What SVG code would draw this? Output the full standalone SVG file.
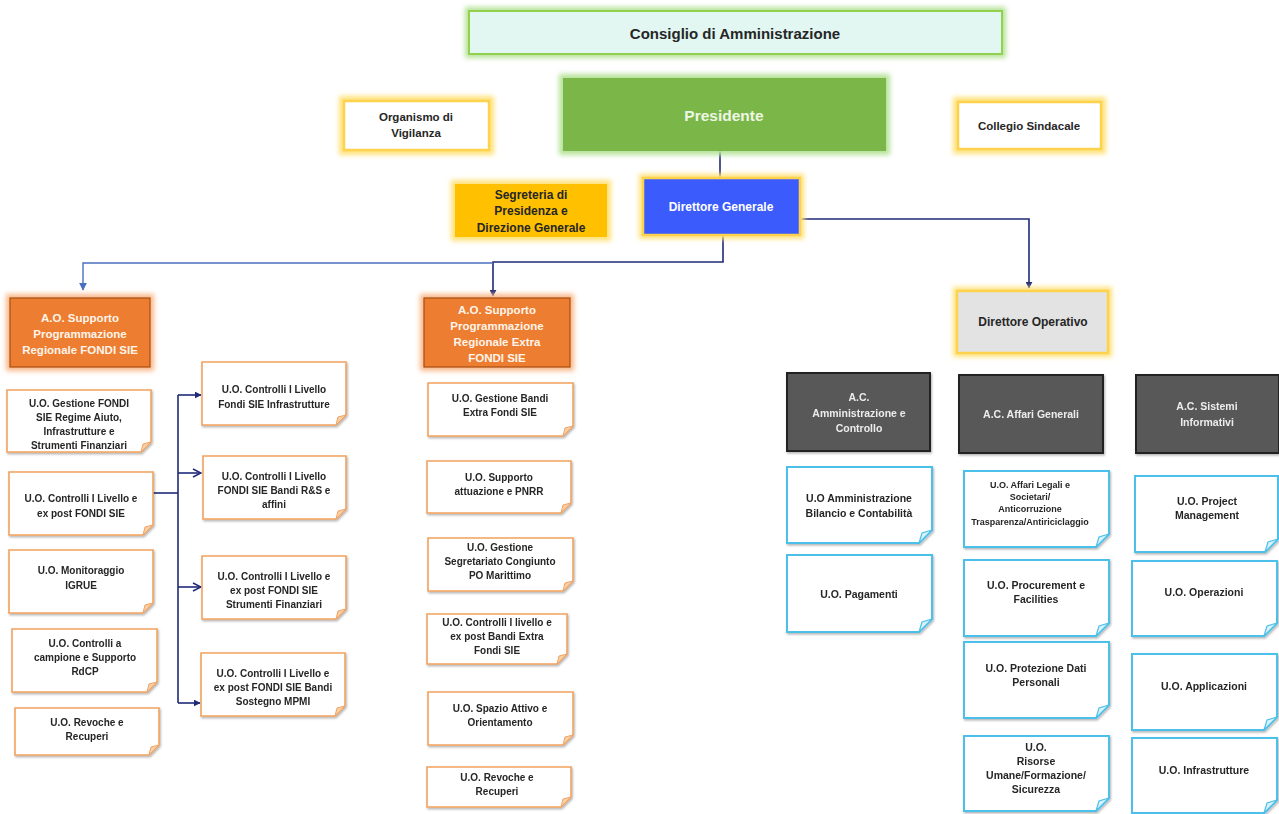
<svg xmlns="http://www.w3.org/2000/svg" width="1279" height="814" viewBox="0 0 1279 814">
<defs>
<style>
.t{font-family:"Liberation Sans",Arial,sans-serif;font-weight:bold;text-anchor:middle;dominant-baseline:central;fill:#262626}
.w{fill:#fff5ea}
.s9{font-size:9px}.s10{font-size:10px}.s105{font-size:10.5px}.s115{font-size:11.5px}.s12{font-size:12px}.s15{font-size:15px}
.uo{fill:#fff;stroke:#f2a25f;stroke-width:1.6}
.fo{fill:#f9cfa8;stroke:#f2a25f;stroke-width:1}
.ub{fill:#fff;stroke:#4cc0ea;stroke-width:2}
.fb{fill:#d8f1fb;stroke:#4cc0ea;stroke-width:1.2}
.ao{fill:#ed7d31;stroke:#a84c10;stroke-width:1.2}
.ac{fill:#595959;stroke:#222;stroke-width:2}
.gy{fill:#ffe27a;filter:url(#blur)}
.gg{fill:#b7e39a;filter:url(#blur)}
.go{fill:#f8b98a;filter:url(#blur)}
.con{fill:none;stroke:#1f2a78;stroke-width:1.6}
</style>
<filter id="blur" x="-20%" y="-20%" width="140%" height="140%"><feGaussianBlur stdDeviation="2.5"/></filter>
<filter id="sh" x="-10%" y="-10%" width="130%" height="130%"><feDropShadow dx="1" dy="1.5" stdDeviation="1.2" flood-color="#000" flood-opacity="0.3"/></filter>
<marker id="ah" viewBox="0 0 10 10" refX="9" refY="5" markerWidth="7" markerHeight="7" markerUnits="userSpaceOnUse" orient="auto"><path d="M0,0 L10,5 L0,10 Z" fill="#1f2a78"/></marker>
<marker id="ahl" viewBox="0 0 10 10" refX="9" refY="5" markerWidth="8" markerHeight="8" markerUnits="userSpaceOnUse" orient="auto"><path d="M0,0 L10,5 L0,10 Z" fill="#4a6fc0"/></marker>
<marker id="ao" viewBox="0 0 10 10" refX="9" refY="5" markerWidth="10" markerHeight="10" markerUnits="userSpaceOnUse" orient="auto"><path d="M1,1 L9,5 L1,9" fill="none" stroke="#1f2a78" stroke-width="1.5"/></marker>
</defs>
<rect width="1279" height="814" fill="#fff"/>

<g id="connectors">
<path class="con" d="M720,151 V178"/>
<path class="con" d="M800,219 H1029 V288" marker-end="url(#ah)"/>
<path class="con" d="M723,235 V262 H493 V296" marker-end="url(#ah)"/>
<path d="M493,263 H83 V290" fill="none" stroke="#4a6fc0" stroke-width="1.4" marker-end="url(#ahl)"/>
<path class="con" d="M153,493 H178"/>
<path class="con" d="M178,395 V703"/>
<path class="con" d="M178,395 H201" marker-end="url(#ah)"/>
<path class="con" d="M178,473 H201" marker-end="url(#ao)"/>
<path class="con" d="M178,587 H201" marker-end="url(#ao)"/>
<path class="con" d="M178,703 H200" marker-end="url(#ah)"/>
</g>

<g id="consiglio">
<rect class="gg" x="465" y="7" width="541" height="51"/>
<rect x="469" y="11" width="533" height="43" fill="#e2f6f2" stroke="#92d050" stroke-width="2"/>
<text class="t s15" x="735" y="33">Consiglio di Amministrazione</text>
</g>

<g id="presidente">
<rect class="gg" x="559" y="74" width="331" height="81"/>
<rect x="563" y="78" width="323" height="73" fill="#7ab648"/>
<text class="t s15" x="724" y="115" style="fill:#eef7e4;font-size:15.5px">Presidente</text>
</g>

<g id="organismo">
<rect class="gy" x="339" y="96" width="155" height="59"/>
<rect x="344" y="101" width="145" height="49" fill="#fff" stroke="#ffd24d" stroke-width="2.5"/>
<text class="t s115" x="416" y="117">Organismo di</text>
<text class="t s115" x="416" y="133">Vigilanza</text>
</g>

<g id="collegio">
<rect class="gy" x="953" y="97" width="153" height="57"/>
<rect x="958" y="102" width="143" height="47" fill="#fff" stroke="#ffd24d" stroke-width="2.5"/>
<text class="t s115" x="1029" y="126">Collegio Sindacale</text>
</g>

<g id="segreteria">
<rect class="gy" x="451" y="180" width="160" height="61"/>
<rect x="455" y="184" width="152" height="53" fill="#ffc000"/>
<text class="t s12" x="531" y="195">Segreteria di</text>
<text class="t s12" x="531" y="211">Presidenza e</text>
<text class="t s12" x="531" y="228">Direzione Generale</text>
</g>

<g id="direttore-generale">
<rect class="gy" x="639" y="174" width="165" height="65"/>
<rect x="643" y="178" width="157" height="57" fill="#3b5bfd" stroke="#ffd24d" stroke-width="2.5"/>
<text class="t s12" x="721" y="207" style="fill:#fff">Direttore Generale</text>
</g>

<g id="direttore-operativo">
<rect class="gy" x="953" y="287" width="159" height="70"/>
<rect x="957" y="291" width="151" height="62" fill="#e3e3e3" stroke="#ffd24d" stroke-width="2.5"/>
<text class="t s12" x="1033" y="322">Direttore Operativo</text>
</g>

<g id="ao-fondi-sie">
<rect class="go" x="6" y="294" width="148" height="77"/>
<rect class="ao" x="10" y="298" width="140" height="69"/>
<text class="t s115 w" x="80" y="318">A.O. Supporto</text>
<text class="t s115 w" x="80" y="334">Programmazione</text>
<text class="t s115 w" x="80" y="350">Regionale FONDI SIE</text>
</g>

<g id="ao-extra">
<rect class="go" x="420" y="294" width="154" height="77"/>
<rect class="ao" x="424" y="298" width="146" height="69"/>
<text class="t s115 w" x="497" y="310">A.O. Supporto</text>
<text class="t s115 w" x="497" y="326">Programmazione</text>
<text class="t s115 w" x="497" y="342">Regionale Extra</text>
<text class="t s115 w" x="497" y="358">FONDI SIE</text>
</g>

<g id="uo-gestione-fondi" filter="url(#sh)">
<path class="uo" d="M7,390 H151 V442 L141,452 H7 Z"/><path class="fo" d="M141,452 L143,444 L151,442 Z"/>
<text class="t s10" x="79" y="403">U.O. Gestione FONDI</text>
<text class="t s10" x="79" y="417">SIE Regime Aiuto,</text>
<text class="t s10" x="79" y="431">Infrastrutture e</text>
<text class="t s10" x="79" y="445">Strumenti Finanziari</text>
</g>
<g id="uo-controlli-fondi" filter="url(#sh)">
<path class="uo" d="M9,472 H153 V525 L143,535 H9 Z"/><path class="fo" d="M143,535 L145,527 L153,525 Z"/>
<text class="t s10" x="81" y="498">U.O. Controlli I Livello e</text>
<text class="t s10" x="81" y="513">ex post FONDI SIE</text>
</g>
<g id="uo-monitoraggio" filter="url(#sh)">
<path class="uo" d="M9,550 H153 V603 L143,613 H9 Z"/><path class="fo" d="M143,613 L145,605 L153,603 Z"/>
<text class="t s10" x="81" y="570">U.O. Monitoraggio</text>
<text class="t s10" x="81" y="585">IGRUE</text>
</g>
<g id="uo-campione" filter="url(#sh)">
<path class="uo" d="M12,629 H157 V682 L147,692 H12 Z"/><path class="fo" d="M147,692 L149,684 L157,682 Z"/>
<text class="t s10" x="85" y="643">U.O. Controlli a</text>
<text class="t s10" x="85" y="657">campione e Supporto</text>
<text class="t s10" x="85" y="671">RdCP</text>
</g>
<g id="uo-revoche-1" filter="url(#sh)">
<path class="uo" d="M15,708 H159 V745 L149,755 H15 Z"/><path class="fo" d="M149,755 L151,747 L159,745 Z"/>
<text class="t s10" x="87" y="722">U.O. Revoche e</text>
<text class="t s10" x="87" y="736">Recuperi</text>
</g>

<g id="uo-ctrl-infra" filter="url(#sh)">
<path class="uo" d="M202,362 H346 V415 L336,425 H202 Z"/><path class="fo" d="M336,425 L338,417 L346,415 Z"/>
<text class="t s10" x="274" y="389">U.O.  Controlli I Livello</text>
<text class="t s10" x="274" y="404">Fondi SIE Infrastrutture</text>
</g>
<g id="uo-ctrl-rs" filter="url(#sh)">
<path class="uo" d="M203,456 H346 V509 L336,519 H203 Z"/><path class="fo" d="M336,519 L338,511 L346,509 Z"/>
<text class="t s10" x="274" y="476">U.O. Controlli I Livello</text>
<text class="t s10" x="274" y="490">FONDI SIE Bandi R&amp;S e</text>
<text class="t s10" x="274" y="504">affini</text>
</g>
<g id="uo-ctrl-strumenti" filter="url(#sh)">
<path class="uo" d="M202,556 H346 V609 L336,619 H202 Z"/><path class="fo" d="M336,619 L338,611 L346,609 Z"/>
<text class="t s10" x="274" y="576">U.O. Controlli I Livello e</text>
<text class="t s10" x="274" y="590">ex post FONDI SIE</text>
<text class="t s10" x="274" y="604">Strumenti Finanziari</text>
</g>
<g id="uo-ctrl-mpmi" filter="url(#sh)">
<path class="uo" d="M201,653 H345 V706 L335,716 H201 Z"/><path class="fo" d="M335,716 L337,708 L345,706 Z"/>
<text class="t s10" x="273" y="673">U.O. Controlli I Livello e</text>
<text class="t s10" x="273" y="687">ex post FONDI SIE Bandi</text>
<text class="t s10" x="273" y="701">Sostegno MPMI</text>
</g>

<g id="uo-gestione-bandi" filter="url(#sh)">
<path class="uo" d="M428,383 H573 V426 L563,436 H428 Z"/><path class="fo" d="M563,436 L565,428 L573,426 Z"/>
<text class="t s10" x="500" y="398">U.O. Gestione Bandi</text>
<text class="t s10" x="500" y="412">Extra Fondi SIE</text>
</g>
<g id="uo-pnrr" filter="url(#sh)">
<path class="uo" d="M427,461 H571 V503 L561,513 H427 Z"/><path class="fo" d="M561,513 L563,505 L571,503 Z"/>
<text class="t s10" x="499" y="477">U.O.  Supporto</text>
<text class="t s10" x="499" y="491">attuazione e PNRR</text>
</g>
<g id="uo-segretariato" filter="url(#sh)">
<path class="uo" d="M428,538 H573 V581 L563,591 H428 Z"/><path class="fo" d="M563,591 L565,583 L573,581 Z"/>
<text class="t s10" x="500" y="547">U.O. Gestione</text>
<text class="t s10" x="500" y="561">Segretariato Congiunto</text>
<text class="t s10" x="500" y="575">PO Marittimo</text>
</g>
<g id="uo-ctrl-extra" filter="url(#sh)">
<path class="uo" d="M427,614 H567 V654 L557,664 H427 Z"/><path class="fo" d="M557,664 L559,656 L567,654 Z"/>
<text class="t s10" x="497" y="622">U.O. Controlli I livello e</text>
<text class="t s10" x="497" y="636">ex post Bandi Extra</text>
<text class="t s10" x="497" y="650">Fondi SIE</text>
</g>
<g id="uo-spazio" filter="url(#sh)">
<path class="uo" d="M428,692 H573 V735 L563,745 H428 Z"/><path class="fo" d="M563,745 L565,737 L573,735 Z"/>
<text class="t s10" x="500" y="708">U.O. Spazio Attivo e</text>
<text class="t s10" x="500" y="722">Orientamento</text>
</g>
<g id="uo-revoche-2" filter="url(#sh)">
<path class="uo" d="M427,767 H571 V797 L561,807 H427 Z"/><path class="fo" d="M561,807 L563,799 L571,797 Z"/>
<text class="t s10" x="497" y="777">U.O. Revoche e</text>
<text class="t s10" x="497" y="791">Recuperi</text>
</g>

<g id="ac-amministrazione" filter="url(#sh)">
<rect class="ac" x="787" y="373" width="143" height="78"/>
<text class="t s105" x="859" y="397" style="fill:#ececec">A.C.</text>
<text class="t s105" x="859" y="413" style="fill:#ececec">Amministrazione e</text>
<text class="t s105" x="859" y="428" style="fill:#ececec">Controllo</text>
</g>
<g id="ac-affari" filter="url(#sh)">
<rect class="ac" x="959" y="375" width="144" height="78"/>
<text class="t s105" x="1031" y="414" style="fill:#ececec">A.C. Affari Generali</text>
</g>
<g id="ac-sistemi" filter="url(#sh)">
<rect class="ac" x="1136" y="375" width="143" height="78"/>
<text class="t s105" x="1207" y="406" style="fill:#ececec">A.C. Sistemi</text>
<text class="t s105" x="1207" y="422" style="fill:#ececec">Informativi</text>
</g>

<g id="uo-bilancio" filter="url(#sh)">
<path class="ub" d="M787,467 H932 V530 L919,543 H787 Z"/><path class="fb" d="M919,543 L922,533 L932,530 Z"/>
<text class="t s105" x="859" y="498">U.O Amministrazione</text>
<text class="t s105" x="859" y="513">Bilancio e Contabilità</text>
</g>
<g id="uo-pagamenti" filter="url(#sh)">
<path class="ub" d="M787,555 H932 V619 L919,632 H787 Z"/><path class="fb" d="M919,632 L922,622 L932,619 Z"/>
<text class="t s105" x="859" y="594">U.O. Pagamenti</text>
</g>
<g id="uo-affari-legali" filter="url(#sh)">
<path class="ub" d="M964,471 H1109 V534 L1096,547 H964 Z"/><path class="fb" d="M1096,547 L1099,537 L1109,534 Z"/>
<text class="t s9" x="1030" y="485">U.O.  Affari Legali e</text>
<text class="t s9" x="1030" y="497">Societari/</text>
<text class="t s9" x="1030" y="509">Anticorruzione</text>
<text class="t s9" x="1030" y="522">Trasparenza/Antiriciclaggio</text>
</g>
<g id="uo-procurement" filter="url(#sh)">
<path class="ub" d="M964,560 H1109 V623 L1096,636 H964 Z"/><path class="fb" d="M1096,636 L1099,626 L1109,623 Z"/>
<text class="t s105" x="1036" y="585">U.O. Procurement e</text>
<text class="t s105" x="1036" y="599">Facilities</text>
</g>
<g id="uo-protezione" filter="url(#sh)">
<path class="ub" d="M964,642 H1109 V705 L1096,718 H964 Z"/><path class="fb" d="M1096,718 L1099,708 L1109,705 Z"/>
<text class="t s105" x="1036" y="668">U.O. Protezione Dati</text>
<text class="t s105" x="1036" y="682">Personali</text>
</g>
<g id="uo-risorse" filter="url(#sh)">
<path class="ub" d="M964,736 H1109 V798 L1096,811 H964 Z"/><path class="fb" d="M1096,811 L1099,801 L1109,798 Z"/>
<text class="t s105" x="1036" y="747">U.O.</text>
<text class="t s105" x="1036" y="761">Risorse</text>
<text class="t s105" x="1036" y="775">Umane/Formazione/</text>
<text class="t s105" x="1036" y="789">Sicurezza</text>
</g>
<g id="uo-project" filter="url(#sh)">
<path class="ub" d="M1135,476 H1278 V539 L1265,552 H1135 Z"/><path class="fb" d="M1265,552 L1268,542 L1278,539 Z"/>
<text class="t s105" x="1207" y="501">U.O. Project</text>
<text class="t s105" x="1207" y="515">Management</text>
</g>
<g id="uo-operazioni" filter="url(#sh)">
<path class="ub" d="M1132,561 H1277 V623 L1264,636 H1132 Z"/><path class="fb" d="M1264,636 L1267,626 L1277,623 Z"/>
<text class="t s105" x="1204" y="592">U.O. Operazioni</text>
</g>
<g id="uo-applicazioni" filter="url(#sh)">
<path class="ub" d="M1132,654 H1277 V717 L1264,730 H1132 Z"/><path class="fb" d="M1264,730 L1267,720 L1277,717 Z"/>
<text class="t s105" x="1204" y="686">U.O. Applicazioni</text>
</g>
<g id="uo-infrastrutture" filter="url(#sh)">
<path class="ub" d="M1132,738 H1277 V800 L1264,813 H1132 Z"/><path class="fb" d="M1264,813 L1267,803 L1277,800 Z"/>
<text class="t s105" x="1204" y="770">U.O. Infrastrutture</text>
</g>
</svg>
